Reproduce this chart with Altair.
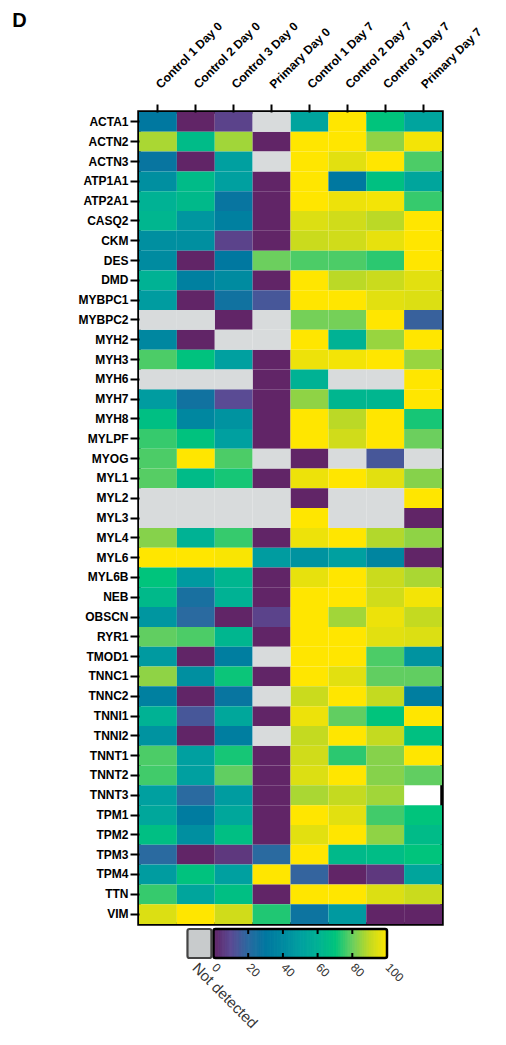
import altair as alt
import pandas as pd

samples = ["Control 1 Day 0", "Control 2 Day 0", "Control 3 Day 0", "Primary Day 0",
           "Control 1 Day 7", "Control 2 Day 7", "Control 3 Day 7", "Primary Day 7"]

genes = ["ACTA1", "ACTN2", "ACTN3", "ATP1A1", "ATP2A1", "CASQ2", "CKM", "DES", "DMD",
         "MYBPC1", "MYBPC2", "MYH2", "MYH3", "MYH6", "MYH7", "MYH8", "MYLPF", "MYOG",
         "MYL1", "MYL2", "MYL3", "MYL4", "MYL6", "MYL6B", "NEB", "OBSCN", "RYR1",
         "TMOD1", "TNNC1", "TNNC2", "TNNI1", "TNNI2", "TNNT1", "TNNT2", "TNNT3",
         "TPM1", "TPM2", "TPM3", "TPM4", "TTN", "VIM"]

ND = None        # not detected
BL = "blank"     # empty cell

values = [
    [30, 0, 8, ND, 52, 100, 70, 52],        # ACTA1
    [87, 65, 86, 0, 100, 100, 84, 98],      # ACTN2
    [28, 0, 50, ND, 100, 95, 100, 77],      # ACTN3
    [42, 65, 50, 0, 100, 30, 68, 53],       # ATP1A1
    [60, 64, 28, 0, 100, 97, 98, 75],       # ATP2A1
    [62, 45, 34, 0, 94, 92, 89, 100],       # CASQ2
    [42, 42, 8, 0, 91, 92, 96, 100],        # CKM
    [40, 0, 30, 80, 77, 77, 74, 100],       # DES
    [60, 34, 40, 0, 100, 89, 91, 95],       # DMD
    [48, 0, 26, 14, 100, 100, 95, 94],      # MYBPC1
    [ND, ND, 0, ND, 81, 81, 100, 17],       # MYBPC2
    [38, 0, ND, ND, 100, 60, 85, 100],      # MYH2
    [77, 69, 50, 0, 97, 98, 100, 85],       # MYH3
    [ND, ND, ND, 0, 60, ND, ND, 100],       # MYH6
    [48, 26, 10, 0, 84, 62, 62, 100],       # MYH7
    [67, 38, 44, 0, 100, 89, 100, 72],      # MYH8
    [75, 69, 50, 0, 100, 92, 100, 80],      # MYLPF
    [77, 100, 77, ND, 0, ND, 14, ND],       # MYOG
    [78, 65, 72, 0, 97, 100, 95, 83],       # MYL1
    [ND, ND, ND, ND, 0, ND, ND, 100],       # MYL2
    [ND, ND, ND, ND, 100, ND, ND, 0],       # MYL3
    [83, 60, 75, 0, 97, 100, 88, 84],       # MYL4
    [100, 100, 99, 48, 44, 50, 37, 0],      # MYL6
    [70, 47, 62, 0, 96, 100, 91, 87],       # MYL6B
    [64, 24, 60, 0, 100, 100, 92, 98],      # NEB
    [45, 20, 0, 8, 100, 86, 97, 90],        # OBSCN
    [79, 77, 62, 0, 100, 100, 95, 94],      # RYR1
    [47, 0, 33, ND, 100, 100, 77, 44],      # TMOD1
    [84, 42, 71, 0, 100, 95, 79, 79],       # TNNC1
    [34, 0, 28, ND, 91, 100, 90, 33],       # TNNC2
    [60, 14, 54, 0, 97, 79, 70, 100],       # TNNI1
    [44, 0, 33, ND, 90, 100, 90, 68],       # TNNI2
    [77, 50, 72, 0, 92, 74, 83, 100],       # TNNT1
    [76, 50, 79, 0, 94, 100, 83, 79],       # TNNT2
    [50, 20, 48, 0, 87, 90, 86, BL],        # TNNT3
    [54, 32, 54, 0, 100, 95, 76, 70],       # TPM1
    [67, 42, 67, 0, 95, 100, 84, 65],       # TPM2
    [20, 0, 5, 20, 100, 64, 66, 70],        # TPM3
    [48, 69, 50, 100, 18, 0, 5, 53],        # TPM4
    [75, 53, 67, 0, 100, 100, 94, 91],      # TTN
    [94, 100, 92, 73, 27, 47, 0, 0],        # VIM
]

legend_ticks = [0, 20, 40, 60, 80, 100]

color_stops = [0, 10, 20, 30, 40, 50, 60, 70, 80, 90, 100]
color_range = ["#612567", "#5a4b94", "#2a6aa0", "#0078a0", "#008ba0", "#00a0a0",
               "#00b294", "#00c47c", "#6ccf5e", "#c4da20", "#ffe600"]

rows = []
for g, vals in zip(genes, values):
    for s, v in zip(samples, vals):
        if v is None:
            rows.append({"gene": g, "sample": s, "value": None, "status": "nd"})
        elif v == "blank":
            rows.append({"gene": g, "sample": s, "value": None, "status": "blank"})
        else:
            rows.append({"gene": g, "sample": s, "value": float(v), "status": "ok"})
df = pd.DataFrame(rows)

color_scale = alt.Scale(domain=color_stops, range=color_range, interpolate="rgb")

FONT = "Liberation Sans"
W, H = 303, 812
LEFT = 137  # page x of plot's left edge

xenc = alt.X("sample:N", sort=samples, title=None,
             axis=alt.Axis(orient="top", labelAngle=-45, labelAlign="left",
                           labelBaseline="middle", labelFontSize=12, labelFontWeight="bold",
                           labelFont=FONT, labelColor="black", tickSize=8, tickWidth=2,
                           tickColor="black", domain=False, labelPadding=18))
yenc = alt.Y("gene:N", sort=genes, title=None,
             axis=alt.Axis(labelFontSize=12, labelFontWeight="bold", labelFont=FONT,
                           labelColor="black", tickSize=9, tickWidth=2, tickColor="black",
                           domain=False, labelPadding=2, minExtent=LEFT - 12))

base = alt.Chart(df)
cells = base.transform_filter("datum.status == 'ok'").mark_rect().encode(
    x=xenc, y=yenc,
    color=alt.Color("value:Q", scale=color_scale, legend=None))
nd_cells = base.transform_filter("datum.status == 'nd'").mark_rect(color="#d8dbdc").encode(
    x=xenc, y=yenc)

main = alt.layer(cells, nd_cells).properties(
    width=W, height=H, view=alt.ViewBackground(stroke="black", strokeWidth=3.5))

# manual legend
px_per_unit = 1.735
zero_px = 211.5
left_units = -(zero_px - LEFT) / px_per_unit
right_units = (LEFT + W - zero_px) / px_per_unit
xdom = [left_units, right_units]
nd_lo, nd_hi, nd_mid = -15.0, -1.2, -11.0

grad = pd.DataFrame({"v": [float(i) for i in range(0, 100)],
                     "v2": [float(i + 1) for i in range(0, 100)]})
xl = alt.X("v:Q", scale=alt.Scale(domain=xdom, nice=False, zero=False), title=None,
           axis=alt.Axis(values=[nd_mid] + legend_ticks, labelAngle=45, labelAlign="left",
                         labelBaseline="middle", labelFont=FONT,
                         labelFontSize={"condition": {"test": "datum.value < 0", "value": 15},
                                        "value": 12},
                         labelColor="#333333", ticks=False, domain=False, grid=False,
                         labelPadding=7, labelOverlap=False, labelBound=False,
                         labelFlush=False,
                         labelExpr="datum.value < 0 ? 'Not detected' : datum.label"))
grad_layer = alt.Chart(grad).mark_rect(strokeWidth=1).encode(
    x=xl, x2="v2:Q",
    color=alt.Color("v:Q", scale=color_scale, legend=None),
    stroke=alt.Stroke("v:Q", scale=color_scale, legend=None))
box = alt.Chart(pd.DataFrame({"v": [0.0], "v2": [100.0]})).mark_rect(
    fill=None, stroke="black", strokeWidth=2.5, cornerRadius=2).encode(x=xl, x2="v2:Q")
ndbox = alt.Chart(pd.DataFrame({"v": [nd_lo], "v2": [nd_hi]})).mark_rect(
    fill="#c8cbcc", stroke="#444444", strokeWidth=2.2, cornerRadius=2).encode(x=xl, x2="v2:Q")
tk = pd.DataFrame({"v": [float(t) for t in legend_ticks[1:-1]]})
ticks_top = alt.Chart(tk).mark_rule(color="black", strokeWidth=2).encode(
    x=xl, y=alt.value(0), y2=alt.value(5))
ticks_bot = alt.Chart(tk).mark_rule(color="black", strokeWidth=2).encode(
    x=xl, y=alt.value(24), y2=alt.value(29))
legend = alt.layer(grad_layer, ticks_top, ticks_bot, box, ndbox).properties(
    width=W, height=29, view=alt.ViewBackground(stroke=None))

chart = alt.vconcat(main, legend, spacing=5, bounds="flush").properties(
    title=alt.TitleParams("D", anchor="start", fontSize=20, fontWeight="bold", font=FONT,
                          color="black", frame="bounds", offset=-13),
    padding={"left": 4, "top": 2, "right": 5, "bottom": 5}
)

chart.save("out.html", embed_options={"renderer": "svg", "actions": False})
